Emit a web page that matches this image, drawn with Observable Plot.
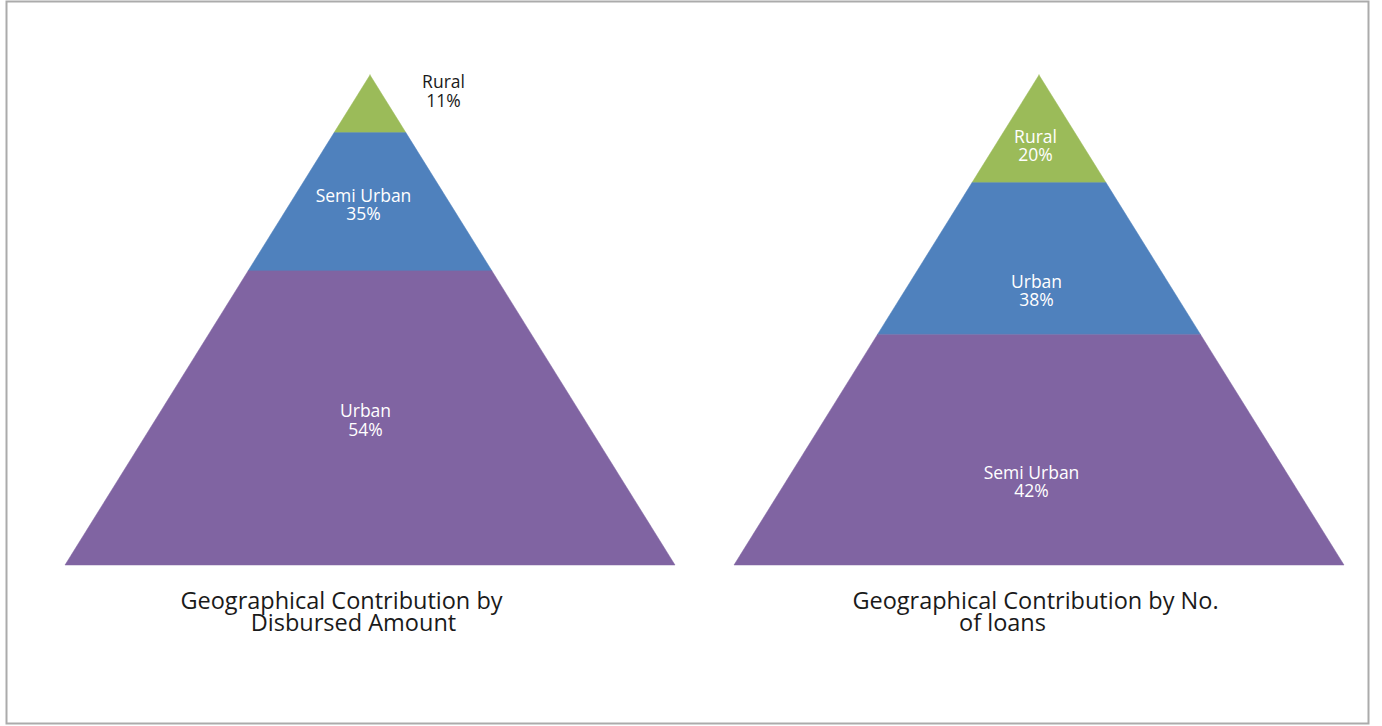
<!DOCTYPE html>
<html><head><meta charset="utf-8">
<script src="https://cdn.jsdelivr.net/npm/d3@7"></script>
<script src="https://cdn.jsdelivr.net/npm/@observablehq/plot@0.6"></script>
<style>html,body{margin:0;padding:0;background:#fff;overflow:hidden}</style>
</head><body><div id="chart"></div>
<script>
// ---- data ----
const leftTitle = ["Geographical Contribution by", "Disbursed Amount"];
const leftCategories = ["Rural", "Semi Urban", "Urban"];
const leftPercents = [11, 35, 54];
const leftHeights = [11.8, 28.2, 60.0];   // drawn segment heights (% of pyramid height)

const rightTitle = ["Geographical Contribution by No.", "of loans"];
const rightCategories = ["Rural", "Urban", "Semi Urban"];
const rightPercents = [20, 38, 42];
const rightHeights = [22.0, 31.0, 47.0];

const colors = ["#9BBB59", "#4F81BD", "#8064A2"];

// ---- layout ----
const W = 1382, H = 726;
const apexPx = 75, basePx = 565, halfPx = 305;
const px2t = p => (p - apexPx) / (basePx - apexPx);
const centersU = [0, (1039 - 370) / halfPx];

function segments(cats, hts, cu, chart) {
  const tot = d3.sum(hts); let acc = 0; const rows = [], mids = [];
  cats.forEach((c, i) => {
    const t0 = acc / tot; acc += hts[i]; const t1 = acc / tot;
    mids.push((t0 + t1) / 2);
    for (const t of [t0, t1]) rows.push({key: chart + "-" + i, level: i, y: t, x1: cu - t, x2: cu + t});
  });
  return {rows, mids};
}
const L = segments(leftCategories, leftHeights, centersU[0], "L");
const R = segments(rightCategories, rightHeights, centersU[1], "R");
const segRows = [...L.rows, ...R.rows];

const tScale = 1 / (basePx - apexPx);
const labels = [];
function addLabels(cats, pcts, mids, cu, offs, dxs, outside) {
  cats.forEach((c, i) => {
    let y = mids[i] + (offs[i] + 18) * tScale, x = cu + dxs[i] / halfPx, fill = "white";
    if (outside && outside[i]) { y = px2t(outside[i][1] + 18); x = cu + outside[i][0] / halfPx; fill = "#1a1a1a"; }
    labels.push({x, y, text: c + "\n" + pcts[i] + "%", fill});
  });
}
addLabels(leftCategories, leftPercents, L.mids, centersU[0], [0, 0, -1], [-7, -7, -5], [[73, 88], null, null]);
addLabels(rightCategories, rightPercents, R.mids, centersU[1], [14, 29, 29], [-4, -3, -8], null);

// titles: x = block centre, line offsets in px
const titles = [
  {x: centersU[0] - 23 / halfPx, y: px2t(630), text: leftTitle.join("\n"), shifts: [-6, 6]},
  {x: centersU[1] - 20.5 / halfPx, y: px2t(630), text: rightTitle.join("\n"), shifts: [16.5, -16.5]}
];

const chart = Plot.plot({
  width: W, height: H,
  margin: 0,
  x: {domain: [-370 / halfPx, (W - 370) / halfPx], range: [0, W], axis: null},
  y: {domain: [px2t(0), px2t(H)], range: [0, H], axis: null},
  color: {type: "ordinal", domain: [0, 1, 2], range: colors},
  style: {fontFamily: "'Open Sans', Lato, sans-serif", background: "white"},
  marks: [
    Plot.frame({stroke: "#ababab", strokeWidth: 2, insetLeft: 6, insetRight: 14, insetTop: 1, insetBottom: 3}),
    Plot.areaX(segRows, {y: "y", x1: "x1", x2: "x2", z: "key", fill: "level", stroke: "level", strokeWidth: 0.5, curve: "linear"}),
    Plot.text(labels, {x: "x", y: "y", text: "text", fill: "fill", fontSize: 17.5, lineHeight: 1.03, lineAnchor: "bottom"}),
    Plot.text(titles, {x: "x", y: "y", text: "text", fill: "#1a1a1a", fontSize: 23.5, lineHeight: 0.9, lineAnchor: "bottom", className: "ptitle"})
  ]
});
// shift individual title lines to their own centres
d3.select(chart).selectAll("g.ptitle text").each(function(_, i) {
  d3.select(this).selectAll("tspan").attr("dx", (_, j) => titles[i].shifts[j]);
});
document.getElementById("chart").appendChild(chart);
</script>
</body></html>
